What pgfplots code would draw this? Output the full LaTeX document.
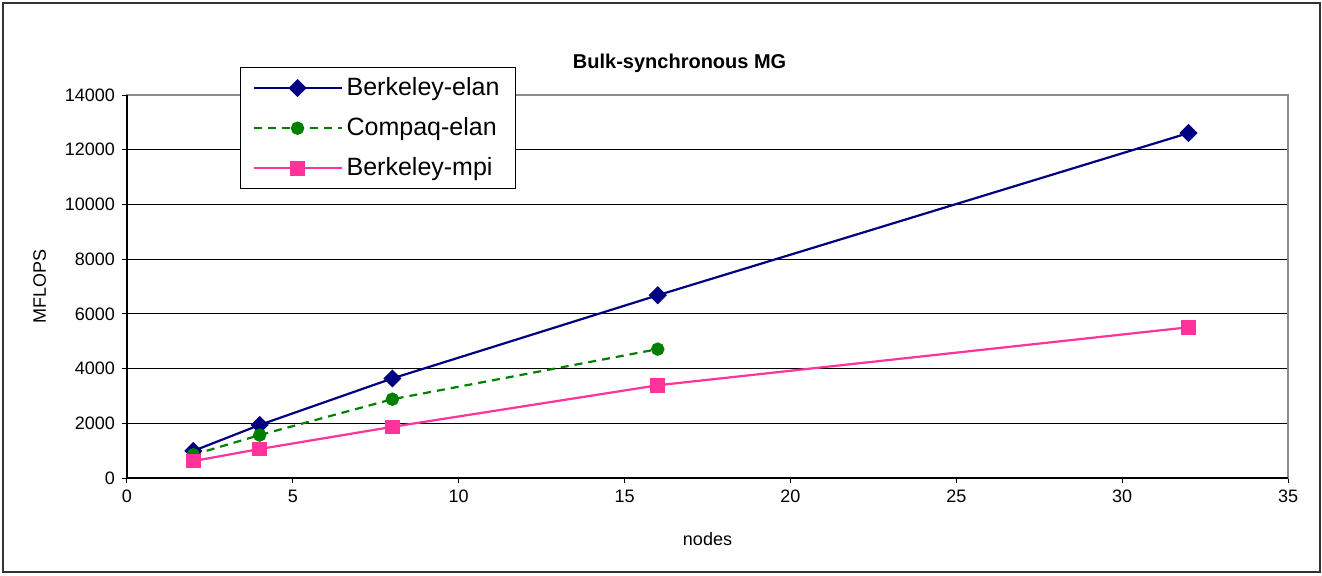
\documentclass[border=0pt]{standalone}
\usepackage{pgfplots}
\pgfplotsset{compat=1.18}
\usepackage{fontspec}
\setmainfont{Liberation Sans}
\definecolor{bnavy}{HTML}{000080}
\definecolor{cgreen}{HTML}{008000}
\definecolor{mpink}{HTML}{FF3399}
\begin{document}
\begin{tikzpicture}
\path (-63.5pt,-48.5pt) rectangle (597.5pt,239pt);
\draw[line width=1pt,black!80] (-62pt,-47pt) rectangle (596.5pt,237.5pt);
\begin{axis}[
  scale only axis,
  width=580.5pt, height=191.5pt,
  at={(0,0)}, anchor=south west,
  xmin=0, xmax=35, ymin=0, ymax=14000,
  xtick={0,5,...,35}, ytick={0,2000,...,14000},
  scaled y ticks=false, scaled x ticks=false,
  axis line style={draw=black!45, line width=0.8pt},
  ymajorgrids, grid style={black, line width=0.5pt},
  tick align=outside, tick pos=left,
  major tick length=2.5pt,
  tick style={black, line width=0.5pt},
  ticklabel style={font=\fontsize{9}{11}\selectfont},
  /pgf/number format/assume math mode=true,
  /pgf/number format/1000 sep={},
  xlabel={nodes}, ylabel={MFLOPS},
  label style={font=\fontsize{9}{11}\selectfont},
  xlabel style={yshift=-8pt},
  ylabel style={yshift=2.5pt},
  legend style={at={(rel axis cs:0.0973,1.073)}, anchor=north west,
    font=\fontsize{12.5}{15}\selectfont, draw=black, line width=0.5pt,
    row sep=5.5pt, inner xsep=6pt, inner ysep=3pt, fill=white},
  legend cell align=left,
  legend image code/.code={\draw[mark repeat=2,mark phase=2,#1] plot coordinates {(0pt,0pt)(22pt,0pt)(44pt,0pt)};},
  clip=false,
]
\addplot[bnavy, line width=1.1pt, mark=square*, mark size=2.65pt, mark options={solid, fill=bnavy, rotate=45}]
  coordinates {(2,990)(4,1940)(8,3640)(16,6680)(32,12610)};
\addlegendentry{Berkeley-elan}
\addplot[cgreen, line width=1.1pt, dash pattern=on 4pt off 3pt, mark=*, mark size=2.8pt, mark options={solid, fill=cgreen}]
  coordinates {(2,850)(4,1570)(8,2880)(16,4710)};
\addlegendentry{Compaq-elan}
\addplot[mpink, line width=1.1pt, mark=square*, mark size=3.1pt, mark options={solid, fill=mpink}]
  coordinates {(2,620)(4,1060)(8,1870)(16,3390)(32,5510)};
\addlegendentry{Berkeley-mpi}
\draw[black, line width=0.8pt] (rel axis cs:0,1) -- (rel axis cs:0,0) -- (rel axis cs:1,0);
\node[font=\bfseries\fontsize{10}{12}\selectfont] at (rel axis cs:0.476,1.084) {Bulk-synchronous MG};
\end{axis}
\end{tikzpicture}
\end{document}
